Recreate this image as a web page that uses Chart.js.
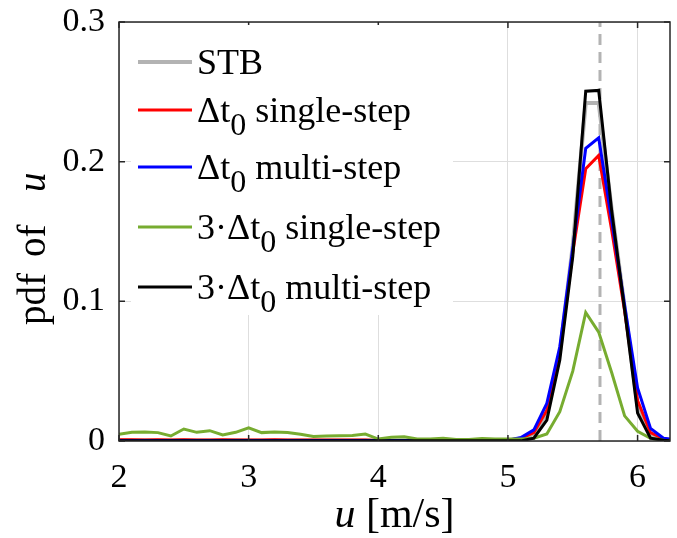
<!DOCTYPE html>
<html><head><meta charset="utf-8">
<script src="https://cdn.jsdelivr.net/npm/chart.js@4.4.0/dist/chart.umd.min.js"></script>
<style>html,body{margin:0;padding:0;background:#fff;}canvas{display:block;}</style>
</head><body>
<canvas id="c" width="677" height="538"></canvas>
<script>
// ---- data ----
const uBins = [2.0,2.1,2.2,2.3,2.4,2.5,2.6,2.7,2.8,2.9,
               3.0,3.1,3.2,3.3,3.4,3.5,3.6,3.7,3.8,3.9,
               4.0,4.1,4.2,4.3,4.4,4.5,4.6,4.7,4.8,4.9,
               5.0,5.1,5.2,5.3,5.4,5.5,5.6,5.7,5.8,5.9,
               6.0,6.1,6.2,6.3];
const stb = [0.0004,0.0004,0.0005,0.0004,0.0004,0.0005,0.0004,0.0004,0.0004,0.0005,
             0.0004,0.0004,0.0004,0.0004,0.0003,0.0004,0.0003,0.0003,0.0004,0.0003,
             0.0003,0.0003,0.0003,0.0003,0.0003,0.0003,0.0003,0.0003,0.0004,0.0004,
             0.0006,0.0015,0.005,0.020,0.063,0.140,0.242,0.242,0.166,0.096,
             0.025,0.004,0.001,0.0003];
const dt0Single = [0.0009,0.0009,0.0008,0.0009,0.0008,0.0009,0.0008,0.0008,0.0009,0.0008,
                   0.0008,0.0008,0.0009,0.0008,0.0008,0.0008,0.0007,0.0008,0.0008,0.0007,
                   0.0004,0.0004,0.0004,0.0004,0.0003,0.0004,0.0004,0.0003,0.0004,0.0004,
                   0.0006,0.002,0.006,0.022,0.064,0.135,0.195,0.2045,0.151,0.093,
                   0.029,0.006,0.0015,0.0005];
const dt0Multi = [0.0003,0.0003,0.0003,0.0003,0.0003,0.0003,0.0003,0.0003,0.0003,0.0003,
                  0.0003,0.0003,0.0003,0.0003,0.0003,0.0003,0.0003,0.0003,0.0003,0.0003,
                  0.0003,0.0003,0.0003,0.0003,0.0003,0.0003,0.0003,0.0003,0.0003,0.0004,
                  0.0006,0.0025,0.008,0.027,0.0675,0.138,0.2095,0.217,0.158,0.097,
                  0.038,0.009,0.002,0.001];
const dt3Single = [0.0048,0.0062,0.0064,0.0060,0.0036,0.0086,0.0062,0.0074,0.0043,0.0062,
                   0.0095,0.0060,0.0064,0.0060,0.0048,0.0032,0.0036,0.0038,0.0040,0.0050,
                   0.0014,0.0026,0.0030,0.0014,0.0014,0.0020,0.0010,0.0010,0.0017,0.0014,
                   0.0014,0.0015,0.0020,0.0050,0.021,0.050,0.092,0.078,0.049,0.018,
                   0.007,0.002,0.0005,0.0];
const dt3Multi = [0.0001,0.0001,0.0001,0.0001,0.0001,0.0001,0.0001,0.0001,0.0001,0.0001,
                  0.0001,0.0001,0.0001,0.0001,0.0001,0.0001,0.0001,0.0001,0.0001,0.0001,
                  0.0001,0.0001,0.0001,0.0001,0.0001,0.0001,0.0001,0.0001,0.0001,0.0001,
                  0.0001,0.0001,0.002,0.015,0.058,0.132,0.2505,0.251,0.165,0.094,
                  0.020,0.002,0.0005,0.0];
const meanLineX = [5.71, 5.71];
const meanLineY = [0, 0.3];
const xTicks = [2, 3, 4, 5, 6];
const yTicks = [0, 0.1, 0.2, 0.3];
const seriesNames = ['STB', 'Δt0 single-step', 'Δt0 multi-step', '3·Δt0 single-step', '3·Δt0 multi-step'];
const seriesColors = ['#b3b3b3', '#ff0000', '#0000ff', '#77ac30', '#000000'];

const pts = arr => uBins.map((u, i) => ({x: u, y: arr[i]}));
const SERIF = '"Liberation Serif", "Times New Roman", serif';

const frame = {
  id: 'frame',
  afterDatasetsDraw(chart) {
    const {ctx, chartArea: a, scales: {x, y}} = chart;
    ctx.save();
    ctx.strokeStyle = '#262626';
    ctx.lineWidth = 1.5;
    ctx.strokeRect(a.left, a.top, a.right - a.left, a.bottom - a.top);
    const tl = 6;
    ctx.beginPath();
    xTicks.forEach(v => {
      const p = x.getPixelForValue(v);
      ctx.moveTo(p, a.bottom); ctx.lineTo(p, a.bottom - tl);
      ctx.moveTo(p, a.top); ctx.lineTo(p, a.top + tl);
    });
    yTicks.forEach(v => {
      const p = y.getPixelForValue(v);
      ctx.moveTo(a.left, p); ctx.lineTo(a.left + tl, p);
      ctx.moveTo(a.right, p); ctx.lineTo(a.right - tl, p);
    });
    ctx.stroke();
    ctx.restore();
  },
  afterDraw(chart) {
    const {ctx, chartArea: a} = chart;
    ctx.save();
    // legend box
    ctx.fillStyle = '#ffffff';
    ctx.fillRect(131, 25, 322, 290);
    const rows = [62, 110, 167, 227, 287];
    const parts = [
      [['STB', 0]],
      [['Δt', 0], ['0', 1], [' single-step', 0]],
      [['Δt', 0], ['0', 1], [' multi-step', 0]],
      [['3·Δt', 0], ['0', 1], [' single-step', 0]],
      [['3·Δt', 0], ['0', 1], [' multi-step', 0]]
    ];
    rows.forEach((ry, i) => {
      ctx.strokeStyle = seriesColors[i];
      ctx.lineWidth = i === 0 ? 4 : 3;
      ctx.beginPath(); ctx.moveTo(138, ry); ctx.lineTo(192, ry); ctx.stroke();
      let tx = 197;
      ctx.fillStyle = '#000';
      ctx.textBaseline = 'alphabetic';
      ctx.textAlign = 'left';
      parts[i].forEach(([t, sub]) => {
        ctx.font = (sub ? '32px ' : '36px ') + SERIF;
        ctx.fillText(t, tx, ry + (sub ? 25 : 12));
        tx += ctx.measureText(t).width;
      });
    });
    // x title
    ctx.fillStyle = '#000';
    ctx.textBaseline = 'alphabetic';
    ctx.textAlign = 'left';
    const fi = 'italic 42px ' + SERIF, fn = '42px ' + SERIF;
    ctx.font = fi; const wu = ctx.measureText('u').width;
    ctx.font = fn; const wr = ctx.measureText(' [m/s]').width;
    const cx = (a.left + a.right) / 2;
    let sx = cx - (wu + wr) / 2;
    ctx.font = fi; ctx.fillText('u', sx, 527);
    ctx.font = fn; ctx.fillText(' [m/s]', sx + wu, 527);
    // y title
    ctx.translate(45, 325);
    ctx.rotate(-Math.PI / 2);
    ctx.font = '39px ' + SERIF;
    ctx.fillText('pdf', 0, 0);
    ctx.fillText('of', 68, 0);
    ctx.font = 'italic 39px ' + SERIF;
    ctx.fillText('u', 133, 0);
    ctx.restore();
  }
};

const lineDs = (label, arr, color, width, order) => ({
  label, data: pts(arr), borderColor: color, backgroundColor: color,
  borderWidth: width, pointRadius: 0, fill: false, tension: 0, order
});

new Chart(document.getElementById('c'), {
  type: 'line',
  data: {
    datasets: [
      lineDs(seriesNames[4], dt3Multi, seriesColors[4], 3, 1),
      lineDs(seriesNames[3], dt3Single, seriesColors[3], 3, 2),
      lineDs(seriesNames[2], dt0Multi, seriesColors[2], 3, 3),
      lineDs(seriesNames[1], dt0Single, seriesColors[1], 3, 4),
      {label: 'mean', data: meanLineX.map((v, i) => ({x: v, y: meanLineY[i]})),
       borderColor: '#b3b3b3', borderWidth: 3, borderDash: [11, 7], pointRadius: 0, fill: false, order: 5},
      lineDs(seriesNames[0], stb, seriesColors[0], 4, 6)
    ]
  },
  options: {
    responsive: false,
    animation: false,
    events: [],
    layout: {padding: {left: 0, right: 7, top: 22, bottom: 0}},
    plugins: {legend: {display: false}, tooltip: {enabled: false}},
    scales: {
      x: {
        type: 'linear', min: 2, max: 6.25,
        afterBuildTicks: s => { s.ticks = xTicks.map(v => ({value: v})); },
        afterFit: s => { s.height = 97; s.paddingLeft = 0; s.paddingRight = 0; },
        grid: {color: '#dedede', lineWidth: 1, drawTicks: false},
        border: {display: false},
        ticks: {padding: 17, color: '#000', maxRotation: 0, autoSkip: false,
                font: {family: SERIF, size: 34}}
      },
      y: {
        type: 'linear', min: 0, max: 0.3,
        afterBuildTicks: s => { s.ticks = yTicks.map(v => ({value: v})); },
        afterFit: s => { s.width = 119; s.paddingTop = 0; s.paddingBottom = 0; },
        grid: {color: '#dedede', lineWidth: 1, drawTicks: false},
        border: {display: false},
        ticks: {padding: 14, color: '#000', font: {family: SERIF, size: 34},
                callback: v => String(v)}
      }
    }
  },
  plugins: [frame]
});
</script>
</body></html>
